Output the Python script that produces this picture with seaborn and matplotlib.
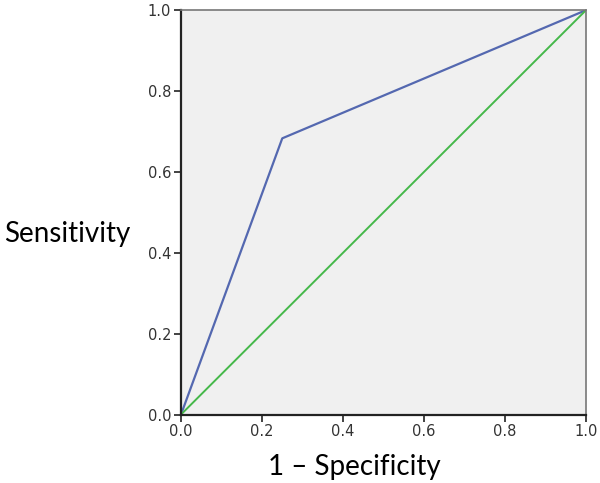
import numpy as np
import matplotlib
matplotlib.use('Agg')
import matplotlib.pyplot as plt
import seaborn as sns
import pandas as pd

# ROC data
fpr = [0.0, 0.25, 1.0]
tpr = [0.0, 0.683, 1.0]
ref_x = [0.0, 1.0]
ref_y = [0.0, 1.0]
ticks = [0.0, 0.2, 0.4, 0.6, 0.8, 1.0]

sns.set_style('white')
plt.rcParams['font.family'] = ['DejaVu Sans']

W, H = 600, 483
fig = plt.figure(figsize=(6, 4.83), dpi=100)
ax = fig.add_axes([0.3017, 0.1418, 0.675, 0.8372])
ax.set_facecolor('#f0f0f0')

roc = pd.DataFrame({'fpr': fpr, 'tpr': tpr})
ref = pd.DataFrame({'x': ref_x, 'y': ref_y})
sns.lineplot(data=roc, x='fpr', y='tpr', ax=ax, color='#5468b0', lw=1.6, sort=False)
sns.lineplot(data=ref, x='x', y='y', ax=ax, color='#45b84a', lw=1.4, sort=False)

ax.set_xlim(0, 1)
ax.set_ylim(0, 1)
ax.set_xticks(ticks)
ax.set_yticks(ticks)
ax.set_xticklabels([f'{t:.1f}' for t in ticks], fontsize=10.5, color='#333333')
ax.set_yticklabels([f'{t:.1f}' for t in ticks], fontsize=10.5, color='#333333')
ax.tick_params(axis='both', direction='out', length=5, width=1.2, color='#222222', pad=2,
               bottom=True, left=True)

for side in ['left', 'bottom']:
    ax.spines[side].set_color('#222222')
    ax.spines[side].set_linewidth(1.6)
for side in ['top', 'right']:
    ax.spines[side].set_color('#777777')
    ax.spines[side].set_linewidth(1.2)

ax.set_xlabel('')
ax.set_ylabel('')
lab_font = ['Lato', 'DejaVu Sans']
fig.text(4 / W, 1 - 242 / H, 'Sensitivity', fontsize=20, ha='left', va='baseline',
         color='black', family=lab_font)
fig.text(268 / W, 1 - 475 / H, '1 – Specificity', fontsize=20, ha='left', va='baseline',
         color='black', family=lab_font)

fig.savefig('out.png', dpi=100)
